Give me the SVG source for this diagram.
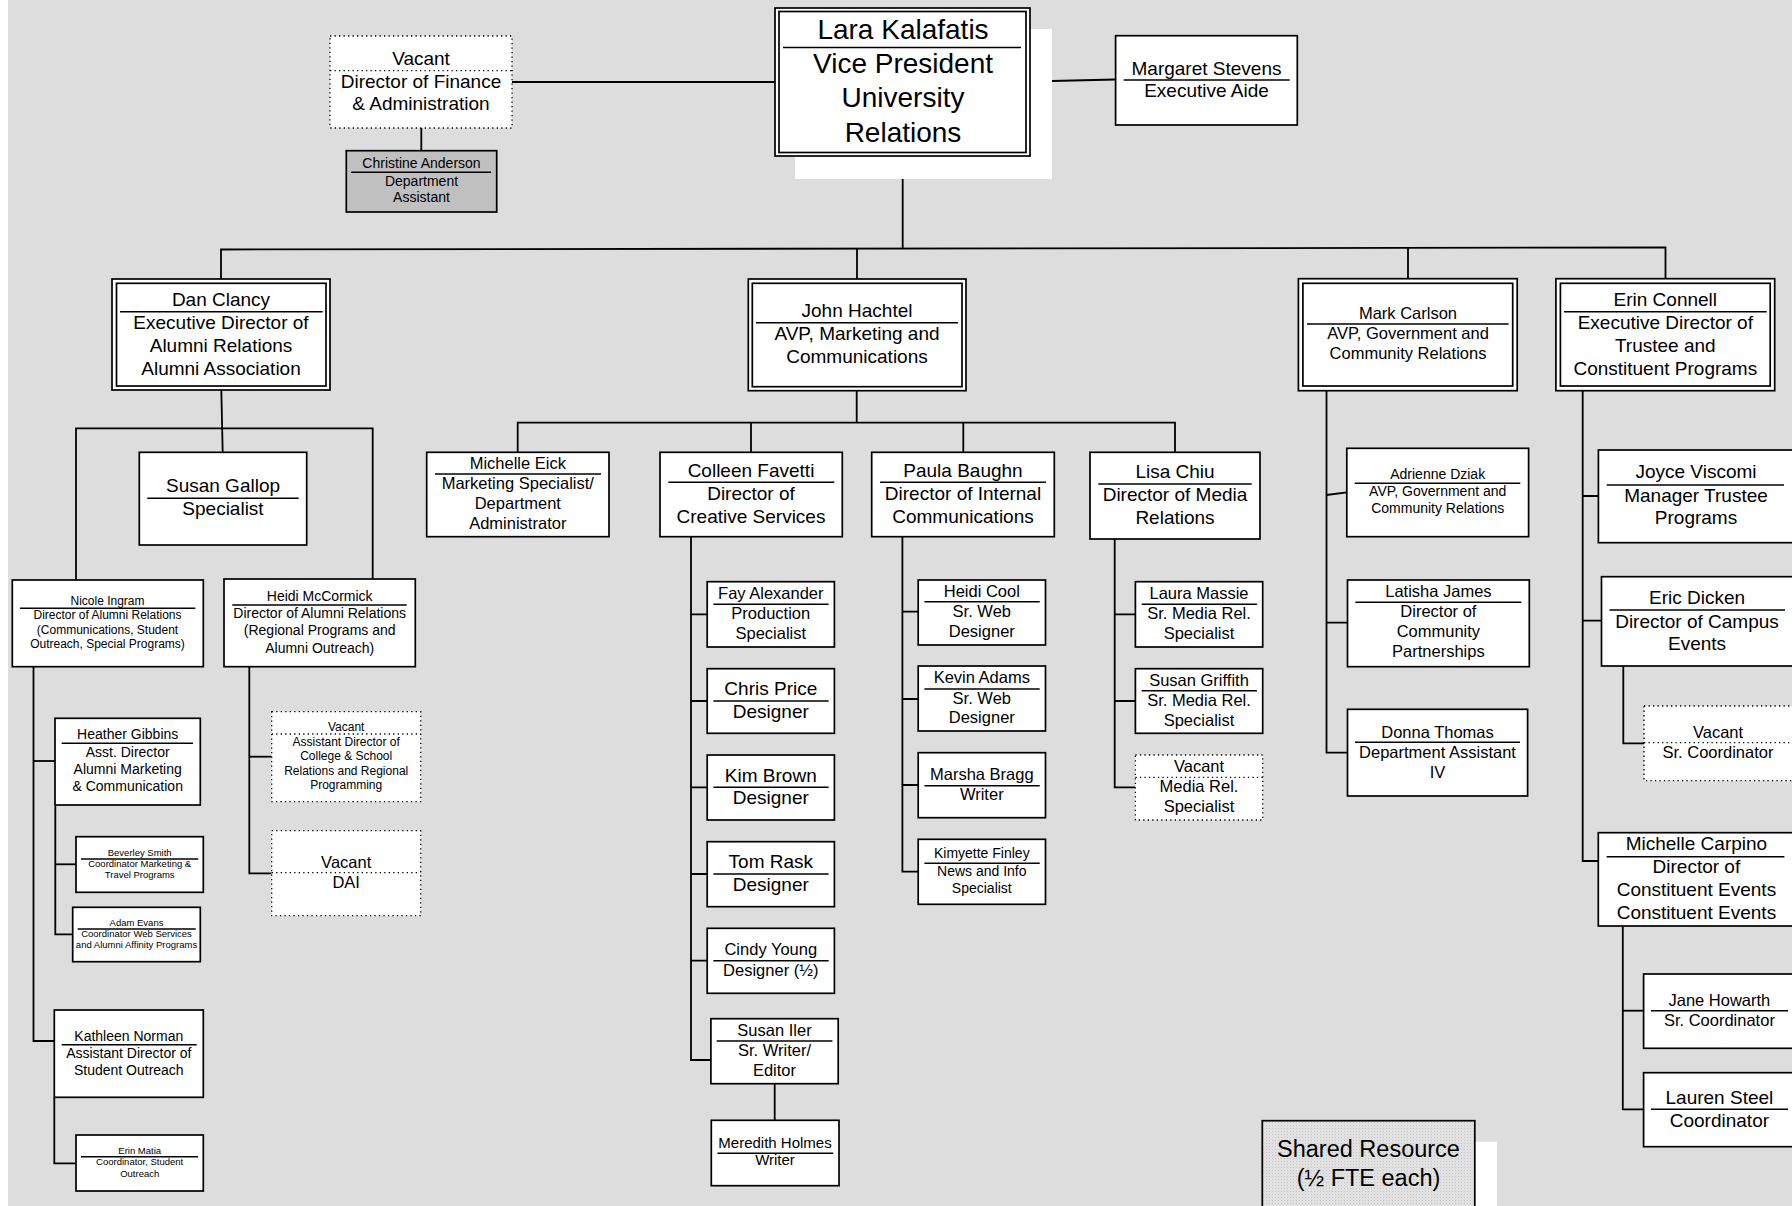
<svg xmlns="http://www.w3.org/2000/svg" width="1792" height="1206" viewBox="0 0 1792 1206">
<defs>
<style>
.bg{fill:#dddddd}
.box{fill:#fff;stroke:#000;stroke-width:1.7}
.shade{fill:#fff;stroke:none}
.grey{fill:#c0c0c0;stroke:#000;stroke-width:1.7}
.vac{fill:#fff;stroke:#000;stroke-width:1.3;stroke-dasharray:1.3 3.2}
.sep{stroke:#000;stroke-width:1.5;fill:none}
.dsep{stroke:#000;stroke-width:1.3;stroke-dasharray:1.3 3.2;fill:none}
.w{fill:none;stroke:#000;stroke-width:1.8}
text{font-family:"Liberation Sans",Arial,sans-serif;fill:#000;text-anchor:middle}
.f28{font-size:28px}
.f23{font-size:23.5px}
.f19{font-size:19px}
.f16{font-size:16.5px}
.f15{font-size:15px}
.f14{font-size:14px}
.f12{font-size:12px}
.f9{font-size:9.5px}
</style>
<pattern id="dots" width="3" height="3" patternUnits="userSpaceOnUse">
<rect width="3" height="3" fill="#e1e1e1"/>
<rect width="1" height="1" fill="#c4c4c4"/>
</pattern>
</defs>

<rect x="0" y="0" width="1792" height="1206" fill="#ffffff"/>
<rect class="bg" x="8" y="0" width="1784" height="1206"/>

<g id="connectors">
<path class="w" d="M512,82 H775"/>
<path class="w" d="M421.3,128 V150.7"/>
<path class="w" d="M1030,81.5 L1115.6,79.5"/>
<path class="w" d="M902.7,156 V248.5"/>
<path class="w" d="M221,279 V249.5 L1665.5,247.5 V278.7"/>
<path class="w" d="M857,248.5 V279"/>
<path class="w" d="M1408,248 V278.7"/>
<path class="w" d="M221.3,390 L222.7,452.3"/>
<path class="w" d="M76,580 V428.3 H372.7 V579"/>
<path class="w" d="M33.5,666.7 V1041 H54.3"/>
<path class="w" d="M33.5,761 H55"/>
<path class="w" d="M55.3,806 V934.3 H72.7"/>
<path class="w" d="M55.3,864.3 H76"/>
<path class="w" d="M54.3,1097.3 V1163.3 H76"/>
<path class="w" d="M249.3,666.7 V873.3 H271.7"/>
<path class="w" d="M249.3,756.7 H271.7"/>
<path class="w" d="M856.7,390.7 V422.7"/>
<path class="w" d="M517.7,452.3 V422.7 H1175 V452.3"/>
<path class="w" d="M751,422.7 V452.3"/>
<path class="w" d="M963.3,422.7 V452.3"/>
<path class="w" d="M691,536.7 V1060 H710.9"/>
<path class="w" d="M691,614.3 H707.2 M691,701 H707.2 M691,787.3 H707.2 M691,874 H707.2 M691,960.7 H707.2"/>
<path class="w" d="M774.7,1083.7 V1120.3"/>
<path class="w" d="M902.4,536.7 V871.7 H918.2"/>
<path class="w" d="M902.4,611.7 H918.2 M902.4,699 H918.2 M902.4,785 H918.2"/>
<path class="w" d="M1114.7,539 V787.3 H1135.4"/>
<path class="w" d="M1114.7,614.3 H1135.4 M1114.7,701 H1135.4"/>
<path class="w" d="M1326.5,390.7 V752.7 H1347.5"/>
<path class="w" d="M1326.5,495 L1346.8,492.3 M1326.5,622.7 H1347.5"/>
<path class="w" d="M1582.7,390.7 V861 H1598.3"/>
<path class="w" d="M1582.7,496 H1598.4 M1582.7,620.7 H1601.5"/>
<path class="w" d="M1623.3,666 V743.3 H1644"/>
<path class="w" d="M1622.8,926 V1109.3 H1643.6"/>
<path class="w" d="M1622.8,1010.7 H1643.6"/>
</g>

<g id="n-vp">
<rect class="shade" x="795" y="29" width="257" height="150"/>
<rect class="box" x="775" y="8" width="255" height="148"/>
<rect class="box" x="779" y="11.5" width="247" height="141"/>
<line class="sep" x1="783" y1="47.5" x2="1021" y2="47.5"/>
<text class="f28" x="903" y="38.5">Lara Kalafatis</text>
<text class="f28" x="903" y="72.5">Vice President</text>
<text class="f28" x="903" y="107">University</text>
<text class="f28" x="903" y="141.5">Relations</text>
</g>

<g id="n-finance">
<rect class="vac" x="330" y="36" width="182" height="92"/>
<line class="dsep" x1="330" y1="70.7" x2="512" y2="70.7"/>
<text class="f19" x="421" y="65">Vacant</text>
<text class="f19" x="421" y="87.5">Director of Finance</text>
<text class="f19" x="421" y="110">&amp; Administration</text>
</g>

<g id="n-christine">
<rect class="grey" x="346.3" y="150.7" width="150.4" height="61.3"/>
<line class="sep" x1="351" y1="172.3" x2="491" y2="172.3"/>
<text class="f14" x="421.5" y="167.5">Christine Anderson</text>
<text class="f14" x="421.5" y="185.5">Department</text>
<text class="f14" x="421.5" y="201.7">Assistant</text>
</g>

<g id="n-margaret">
<rect class="box" x="1115.6" y="35.7" width="181.7" height="89.3"/>
<line class="sep" x1="1123.7" y1="80" x2="1289.7" y2="80"/>
<text class="f19" x="1206.5" y="75">Margaret Stevens</text>
<text class="f19" x="1206.5" y="96.7">Executive Aide</text>
</g>

<g id="n-dan">
<rect class="box" x="112" y="279" width="218" height="111"/>
<rect class="box" x="116.5" y="283.3" width="209.5" height="102.7"/>
<line class="sep" x1="120" y1="311.7" x2="322.7" y2="311.7"/>
<text class="f19" x="221" y="306">Dan Clancy</text>
<text class="f19" x="221" y="329">Executive Director of</text>
<text class="f19" x="221" y="351.7">Alumni Relations</text>
<text class="f19" x="221" y="375">Alumni Association</text>
</g>

<g id="n-john">
<rect class="box" x="748.3" y="279" width="217.7" height="111.7"/>
<rect class="box" x="752.3" y="283.3" width="209.7" height="103.4"/>
<line class="sep" x1="756" y1="322.7" x2="958" y2="322.7"/>
<text class="f19" x="857" y="317.3">John Hachtel</text>
<text class="f19" x="857" y="340">AVP, Marketing and</text>
<text class="f19" x="857" y="363.3">Communications</text>
</g>

<g id="n-mark">
<rect class="box" x="1298.4" y="278.7" width="218.8" height="112"/>
<rect class="box" x="1302.9" y="283.3" width="209.8" height="102.7"/>
<line class="sep" x1="1307" y1="324" x2="1508.6" y2="324"/>
<text class="f16" x="1408" y="319.3">Mark Carlson</text>
<text class="f16" x="1408" y="339.3">AVP, Government and</text>
<text class="f16" x="1408" y="359.3">Community Relations</text>
</g>

<g id="n-erin">
<rect class="box" x="1555.9" y="278.7" width="218.8" height="112"/>
<rect class="box" x="1560.4" y="283.3" width="209.8" height="102.7"/>
<line class="sep" x1="1564" y1="311.7" x2="1766.8" y2="311.7"/>
<text class="f19" x="1665.3" y="306">Erin Connell</text>
<text class="f19" x="1665.3" y="329.3">Executive Director of</text>
<text class="f19" x="1665.3" y="351.7">Trustee and</text>
<text class="f19" x="1665.3" y="375">Constituent Programs</text>
</g>

<g id="n-susan-gallop">
<rect class="box" x="139.3" y="452.3" width="167.4" height="92.7"/>
<line class="sep" x1="147.3" y1="498.3" x2="298.7" y2="498.3"/>
<text class="f19" x="223" y="492.3">Susan Gallop</text>
<text class="f19" x="223" y="515">Specialist</text>
</g>

<g id="n-nicole">
<rect class="box" x="12.3" y="580" width="191" height="86.7"/>
<line class="sep" x1="20" y1="608.3" x2="195.3" y2="608.3"/>
<text class="f12" x="107.5" y="605">Nicole Ingram</text>
<text class="f12" x="107.5" y="619">Director of Alumni Relations</text>
<text class="f12" x="107.5" y="634">(Communications, Student</text>
<text class="f12" x="107.5" y="647.7">Outreach, Special Programs)</text>
</g>

<g id="n-heidi-mccormick">
<rect class="box" x="224" y="579" width="191.3" height="87.7"/>
<line class="sep" x1="232.3" y1="605" x2="406.7" y2="605"/>
<text class="f14" x="319.7" y="600.7">Heidi McCormick</text>
<text class="f14" x="319.7" y="618">Director of Alumni Relations</text>
<text class="f14" x="319.7" y="635.3">(Regional Programs and</text>
<text class="f14" x="319.7" y="652.6">Alumni Outreach)</text>
</g>

<g id="n-heather">
<rect class="box" x="55" y="718.3" width="145.3" height="86.7"/>
<line class="sep" x1="61.7" y1="743.3" x2="193" y2="743.3"/>
<text class="f14" x="127.7" y="739.3">Heather Gibbins</text>
<text class="f14" x="127.7" y="756.7">Asst. Director</text>
<text class="f14" x="127.7" y="774">Alumni Marketing</text>
<text class="f14" x="127.7" y="791">&amp; Communication</text>
</g>

<g id="n-beverley">
<rect class="box" x="76" y="836.7" width="127.3" height="55.6"/>
<line class="sep" x1="81" y1="859" x2="198.3" y2="859"/>
<text class="f9" x="139.7" y="856">Beverley Smith</text>
<text class="f9" x="139.7" y="867.3">Coordinator Marketing &amp;</text>
<text class="f9" x="139.7" y="878.3">Travel Programs</text>
</g>

<g id="n-adam">
<rect class="box" x="72.7" y="907.3" width="127.6" height="54.4"/>
<line class="sep" x1="77.7" y1="929" x2="195.7" y2="929"/>
<text class="f9" x="136.5" y="925.7">Adam Evans</text>
<text class="f9" x="136.5" y="936.7">Coordinator Web Services</text>
<text class="f9" x="136.5" y="948">and Alumni Affinity Programs</text>
</g>

<g id="n-kathleen">
<rect class="box" x="54.3" y="1010" width="149" height="87.3"/>
<line class="sep" x1="61.7" y1="1044.7" x2="196.7" y2="1044.7"/>
<text class="f14" x="128.8" y="1040.7">Kathleen Norman</text>
<text class="f14" x="128.8" y="1057.7">Assistant Director of</text>
<text class="f14" x="128.8" y="1075">Student Outreach</text>
</g>

<g id="n-erin-matia">
<rect class="box" x="76" y="1135" width="127.3" height="56"/>
<line class="sep" x1="81" y1="1156.7" x2="198" y2="1156.7"/>
<text class="f9" x="139.7" y="1154">Erin Matia</text>
<text class="f9" x="139.7" y="1165">Coordinator, Student</text>
<text class="f9" x="139.7" y="1176.7">Outreach</text>
</g>

<g id="n-vacant-asst-dir">
<rect class="vac" x="271.7" y="711.7" width="149" height="90"/>
<line class="dsep" x1="271.7" y1="734" x2="420.7" y2="734"/>
<text class="f12" x="346.2" y="730.7">Vacant</text>
<text class="f12" x="346.2" y="745.7">Assistant Director of</text>
<text class="f12" x="346.2" y="760">College &amp; School</text>
<text class="f12" x="346.2" y="775">Relations and Regional</text>
<text class="f12" x="346.2" y="789.3">Programming</text>
</g>

<g id="n-vacant-dai">
<rect class="vac" x="271.7" y="830.7" width="149" height="85"/>
<line class="dsep" x1="271.7" y1="872.7" x2="420.7" y2="872.7"/>
<text class="f16" x="346.2" y="868.3">Vacant</text>
<text class="f16" x="346.2" y="888.3">DAI</text>
</g>

<g id="n-michelle-eick">
<rect class="box" x="426.7" y="452.3" width="182.3" height="84.4"/>
<line class="sep" x1="435" y1="474" x2="601" y2="474"/>
<text class="f16" x="517.8" y="469">Michelle Eick</text>
<text class="f16" x="517.8" y="489">Marketing Specialist/</text>
<text class="f16" x="517.8" y="509.3">Department</text>
<text class="f16" x="517.8" y="529.3">Administrator</text>
</g>

<g id="n-colleen">
<rect class="box" x="660" y="452.3" width="182.3" height="84.4"/>
<line class="sep" x1="668.3" y1="482.3" x2="834.3" y2="482.3"/>
<text class="f19" x="751" y="477.3">Colleen Favetti</text>
<text class="f19" x="751" y="500">Director of</text>
<text class="f19" x="751" y="523.3">Creative Services</text>
</g>

<g id="n-paula">
<rect class="box" x="871.7" y="452.3" width="182.6" height="84.4"/>
<line class="sep" x1="880" y1="482.3" x2="1046" y2="482.3"/>
<text class="f19" x="963" y="477.3">Paula Baughn</text>
<text class="f19" x="963" y="500">Director of Internal</text>
<text class="f19" x="963" y="523.3">Communications</text>
</g>

<g id="n-lisa">
<rect class="box" x="1090" y="452.3" width="170" height="86.7"/>
<line class="sep" x1="1098.3" y1="484" x2="1251.7" y2="484"/>
<text class="f19" x="1175" y="478.3">Lisa Chiu</text>
<text class="f19" x="1175" y="501">Director of Media</text>
<text class="f19" x="1175" y="524">Relations</text>
</g>

<g id="n-fay">
<rect class="box" x="707.2" y="581.7" width="127.2" height="65.3"/>
<line class="sep" x1="713.4" y1="604.3" x2="828.6" y2="604.3"/>
<text class="f16" x="770.8" y="599">Fay Alexander</text>
<text class="f16" x="770.8" y="619">Production</text>
<text class="f16" x="770.8" y="639">Specialist</text>
</g>

<g id="n-chris">
<rect class="box" x="707.2" y="668.7" width="127.2" height="64.6"/>
<line class="sep" x1="713.4" y1="701" x2="828.6" y2="701"/>
<text class="f19" x="770.8" y="695">Chris Price</text>
<text class="f19" x="770.8" y="718.3">Designer</text>
</g>

<g id="n-kim">
<rect class="box" x="707.2" y="755" width="127.2" height="65"/>
<line class="sep" x1="713.4" y1="787.3" x2="828.6" y2="787.3"/>
<text class="f19" x="770.8" y="781.7">Kim Brown</text>
<text class="f19" x="770.8" y="804">Designer</text>
</g>

<g id="n-tom">
<rect class="box" x="707.2" y="841.7" width="127.2" height="65"/>
<line class="sep" x1="713.4" y1="874" x2="828.6" y2="874"/>
<text class="f19" x="770.8" y="867.7">Tom Rask</text>
<text class="f19" x="770.8" y="890.7">Designer</text>
</g>

<g id="n-cindy">
<rect class="box" x="707.2" y="928.3" width="127.2" height="65"/>
<line class="sep" x1="713.4" y1="960.7" x2="828.6" y2="960.7"/>
<text class="f16" x="770.8" y="955">Cindy Young</text>
<text class="f16" x="770.8" y="976">Designer (½)</text>
</g>

<g id="n-susan-iler">
<rect class="box" x="710.9" y="1018.7" width="127.3" height="65"/>
<line class="sep" x1="716.7" y1="1041" x2="832.4" y2="1041"/>
<text class="f16" x="774.5" y="1036">Susan Iler</text>
<text class="f16" x="774.5" y="1056">Sr. Writer/</text>
<text class="f16" x="774.5" y="1076">Editor</text>
</g>

<g id="n-meredith">
<rect class="box" x="711.3" y="1120.3" width="127.7" height="65.4"/>
<line class="sep" x1="717.5" y1="1153.3" x2="833.2" y2="1153.3"/>
<text class="f15" x="775" y="1148.3">Meredith Holmes</text>
<text class="f15" x="775" y="1165">Writer</text>
</g>

<g id="n-heidi-cool">
<rect class="box" x="918.2" y="580" width="127.3" height="65"/>
<line class="sep" x1="924.4" y1="601.7" x2="1039.7" y2="601.7"/>
<text class="f16" x="981.8" y="596.7">Heidi Cool</text>
<text class="f16" x="981.8" y="617.3">Sr. Web</text>
<text class="f16" x="981.8" y="637.3">Designer</text>
</g>

<g id="n-kevin">
<rect class="box" x="918.2" y="666" width="127.3" height="65"/>
<line class="sep" x1="924.4" y1="689" x2="1039.7" y2="689"/>
<text class="f16" x="981.8" y="683.3">Kevin Adams</text>
<text class="f16" x="981.8" y="704">Sr. Web</text>
<text class="f16" x="981.8" y="723.3">Designer</text>
</g>

<g id="n-marsha">
<rect class="box" x="918.2" y="752.7" width="127.3" height="65"/>
<line class="sep" x1="924.4" y1="785.7" x2="1039.7" y2="785.7"/>
<text class="f16" x="981.8" y="780">Marsha Bragg</text>
<text class="f16" x="981.8" y="800">Writer</text>
</g>

<g id="n-kimyette">
<rect class="box" x="918.2" y="839.3" width="127.3" height="65"/>
<line class="sep" x1="924.4" y1="863.3" x2="1039.7" y2="863.3"/>
<text class="f14" x="981.8" y="858.3">Kimyette Finley</text>
<text class="f14" x="981.8" y="876">News and Info</text>
<text class="f14" x="981.8" y="893.3">Specialist</text>
</g>

<g id="n-laura">
<rect class="box" x="1135.4" y="581.7" width="127.3" height="65.3"/>
<line class="sep" x1="1141.7" y1="604.3" x2="1256.9" y2="604.3"/>
<text class="f16" x="1199" y="599">Laura Massie</text>
<text class="f16" x="1199" y="619">Sr. Media Rel.</text>
<text class="f16" x="1199" y="639">Specialist</text>
</g>

<g id="n-susan-griffith">
<rect class="box" x="1135.4" y="668.7" width="127.3" height="64.6"/>
<line class="sep" x1="1141.7" y1="690.7" x2="1256.9" y2="690.7"/>
<text class="f16" x="1199" y="685.7">Susan Griffith</text>
<text class="f16" x="1199" y="705.7">Sr. Media Rel.</text>
<text class="f16" x="1199" y="725.7">Specialist</text>
</g>

<g id="n-vacant-media">
<rect class="vac" x="1135.4" y="755" width="127.3" height="65"/>
<line class="dsep" x1="1135.4" y1="777.3" x2="1262.7" y2="777.3"/>
<text class="f16" x="1199" y="772.3">Vacant</text>
<text class="f16" x="1199" y="792.3">Media Rel.</text>
<text class="f16" x="1199" y="812.3">Specialist</text>
</g>

<g id="n-adrienne">
<rect class="box" x="1346.8" y="448.3" width="181.8" height="88.4"/>
<line class="sep" x1="1354.7" y1="483.3" x2="1520.3" y2="483.3"/>
<text class="f14" x="1437.7" y="479.3">Adrienne Dziak</text>
<text class="f14" x="1437.7" y="496">AVP, Government and</text>
<text class="f14" x="1437.7" y="513.3">Community Relations</text>
</g>

<g id="n-latisha">
<rect class="box" x="1347.5" y="580" width="181.8" height="86.7"/>
<line class="sep" x1="1355.4" y1="602.3" x2="1521.3" y2="602.3"/>
<text class="f16" x="1438.4" y="597.3">Latisha James</text>
<text class="f16" x="1438.4" y="617.3">Director of</text>
<text class="f16" x="1438.4" y="637.3">Community</text>
<text class="f16" x="1438.4" y="657.3">Partnerships</text>
</g>

<g id="n-donna">
<rect class="box" x="1347.5" y="709.3" width="180.1" height="86.7"/>
<line class="sep" x1="1355" y1="742.3" x2="1520" y2="742.3"/>
<text class="f16" x="1437.5" y="737.7">Donna Thomas</text>
<text class="f16" x="1437.5" y="757.7">Department Assistant</text>
<text class="f16" x="1437.5" y="777.7">IV</text>
</g>

<g id="n-joyce">
<rect class="box" x="1598.4" y="450" width="197" height="92.7"/>
<line class="sep" x1="1606.7" y1="485" x2="1784" y2="485"/>
<text class="f19" x="1696" y="478.3">Joyce Viscomi</text>
<text class="f19" x="1696" y="501.7">Manager Trustee</text>
<text class="f19" x="1696" y="524">Programs</text>
</g>

<g id="n-eric">
<rect class="box" x="1601.5" y="576.7" width="194" height="89.3"/>
<line class="sep" x1="1609.5" y1="610" x2="1785" y2="610"/>
<text class="f19" x="1697" y="604">Eric Dicken</text>
<text class="f19" x="1697" y="627.7">Director of Campus</text>
<text class="f19" x="1697" y="650">Events</text>
</g>

<g id="n-vacant-sr-coord">
<rect class="vac" x="1644" y="706" width="151" height="74.7"/>
<line class="dsep" x1="1644" y1="742.7" x2="1792" y2="742.7"/>
<text class="f16" x="1718" y="738.3">Vacant</text>
<text class="f16" x="1718" y="758.3">Sr. Coordinator</text>
</g>

<g id="n-michelle-carpino">
<rect class="box" x="1598.3" y="832.7" width="197" height="93.3"/>
<line class="sep" x1="1606.6" y1="856.7" x2="1784.4" y2="856.7"/>
<text class="f19" x="1696.4" y="850">Michelle Carpino</text>
<text class="f19" x="1696.4" y="873">Director of</text>
<text class="f19" x="1696.4" y="896">Constituent Events</text>
<text class="f19" x="1696.4" y="919">Constituent Events</text>
</g>

<g id="n-jane">
<rect class="box" x="1643.6" y="974" width="152" height="74.3"/>
<line class="sep" x1="1651" y1="1010.7" x2="1788" y2="1010.7"/>
<text class="f16" x="1719.4" y="1006">Jane Howarth</text>
<text class="f16" x="1719.4" y="1026">Sr. Coordinator</text>
</g>

<g id="n-lauren">
<rect class="box" x="1643.6" y="1072.7" width="152" height="74"/>
<line class="sep" x1="1651" y1="1109.3" x2="1788" y2="1109.3"/>
<text class="f19" x="1719.4" y="1104">Lauren Steel</text>
<text class="f19" x="1719.4" y="1126.7">Coordinator</text>
</g>

<g id="n-shared">
<rect class="shade" x="1284" y="1141.7" width="213" height="70"/>
<rect x="1262.3" y="1120.7" width="212.5" height="95" fill="url(#dots)" stroke="#000" stroke-width="1.7"/>
<text class="f23" x="1368.5" y="1156.7">Shared Resource</text>
<text class="f23" x="1368.5" y="1186">(½ FTE each)</text>
</g>
</svg>
